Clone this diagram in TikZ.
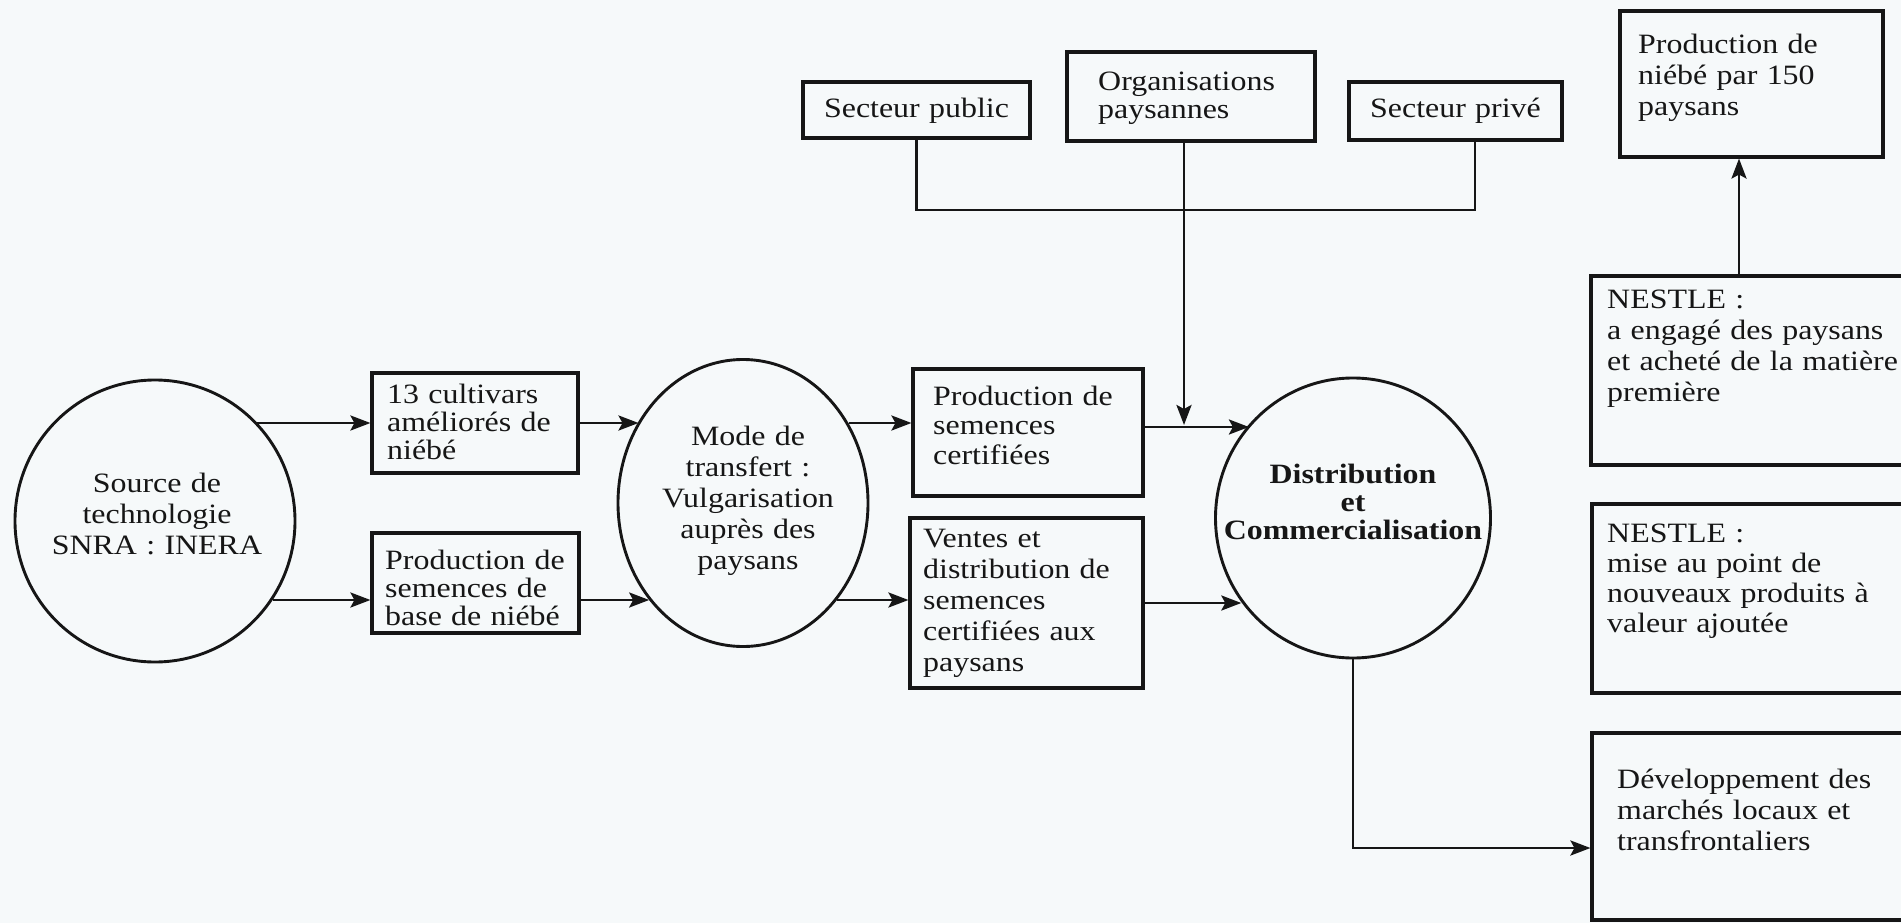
\documentclass[tikz,border=0pt]{standalone}
\usepackage{fontspec}
\setmainfont{Liberation Serif}[FakeStretch=1.14]
\usetikzlibrary{arrows.meta,shapes.geometric}
\definecolor{paper}{RGB}{246,249,250}
\definecolor{ink}{RGB}{22,22,22}

\begin{document}
\begin{tikzpicture}[x=1pt,y=-1pt,
  every node/.style={text=ink},
  txt/.style={font=\fontsize{28pt}{31pt}\selectfont},
  tight/.style={font=\fontsize{28pt}{28pt}\selectfont},
  frame/.style={draw=ink, line width=3.1pt, rectangle, inner sep=0pt},
  oval/.style={draw=ink, line width=2.9pt, ellipse, inner sep=0pt},
  lbl/.style={txt, inner sep=0pt, text width=420pt, align=left, anchor=base west},
  clbl/.style={txt, inner sep=0pt, text width=320pt, align=center, anchor=base},
  link/.style={draw=ink, line width=2.9pt},
  arr/.style={link, -{Stealth[length=20pt,width=15pt,inset=4pt]}},
]
\useasboundingbox (0,0) rectangle (1901,923);
\clip (0,0) rectangle (1901,923);
\fill[paper] (0,0) rectangle (1901,923);

% ---- ovals
\node[oval, minimum width=280pt, minimum height=282pt] (src) at (155,521) {};
\node[oval, minimum width=250pt, minimum height=287pt] (mode) at (743,503) {};
\node[oval, minimum width=275pt, minimum height=280pt] (dist) at (1353,518) {};

\node[clbl] (src-t) at (157,492) {Source de\\technologie\\SNRA : INERA};
\node[clbl] (mode-t) at (748,445) {Mode de\\transfert :\\Vulgarisation\\auprès des\\paysans};
\node[clbl, font=\fontsize{28pt}{28pt}\selectfont\bfseries] (dist-t) at (1353,483)
  {Distribution\\et\\Commercialisation};

% ---- boxes
\node[frame, minimum width=206pt, minimum height=100pt] (box13) at (475,423) {};
\node[frame, minimum width=207pt, minimum height=100pt] (base) at (475.5,583) {};
\node[frame, minimum width=230pt, minimum height=127pt] (cert) at (1028,432.5) {};
\node[frame, minimum width=233pt, minimum height=170pt] (ventes) at (1026.5,603) {};
\node[frame, minimum width=227pt, minimum height=56pt] (pub) at (916.5,110) {};
\node[frame, minimum width=248pt, minimum height=89pt] (org) at (1191,96.5) {};
\node[frame, minimum width=213pt, minimum height=58pt] (priv) at (1455.5,111) {};
\node[frame, minimum width=263pt, minimum height=146pt] (prodN) at (1751.5,84) {};
\node[frame, minimum width=324pt, minimum height=189pt] (nestleA) at (1753,370.5) {};
\node[frame, minimum width=323pt, minimum height=189pt] (nestleB) at (1753.5,598.5) {};
\node[frame, minimum width=323pt, minimum height=187pt] (dev) at (1753.5,826.5) {};

\node[lbl, tight] (box13-t) at (387,403) {13 cultivars\\améliorés de\\niébé};
\node[lbl, tight] (base-t) at (385,569) {Production de\\semences de\\base de niébé};
\node[lbl, font=\fontsize{28pt}{29.5pt}\selectfont] (cert-t) at (933,405) {Production de\\semences\\certifiées};
\node[lbl] (ventes-t) at (923,547) {Ventes et\\distribution de\\semences\\certifiées aux\\paysans};
\node[clbl] (pub-t) at (916.5,118) {Secteur public};
\node[lbl, tight] (org-t) at (1098,91) {Organisations\\paysannes};
\node[clbl] (priv-t) at (1455.5,118) {Secteur privé};
\node[lbl] (prodN-t) at (1638,54) {Production de\\niébé par 150\\paysans};
\node[lbl] (nestleA-t) at (1607,308) {NESTLE :\\a engagé des paysans\\et acheté de la matière\\première};
\node[lbl, font=\fontsize{28pt}{30pt}\selectfont] (nestleB-t) at (1607,542) {NESTLE :\\mise au point de\\nouveaux produits à\\valeur ajoutée};
\node[lbl] (dev-t) at (1617,788) {Développement des\\marchés locaux et\\transfrontaliers};

% ---- connector levels
\coordinate (yA) at (0,423);
\coordinate (yB) at (0,600);
\coordinate (yC) at (0,427);
\coordinate (yD) at (0,603);
\coordinate (join) at (1184,425);
\coordinate (privfoot) at (1475,210);
\coordinate (yF) at (0,848);
\coordinate (xN) at (1739,0);

% ---- connectors
\draw[arr] (src.44.2 |- yA) -- (box13.west |- yA);
\draw[arr] (src.-34.3 |- yB) -- (base.west |- yB);
\draw[arr] (box13.east |- yA) -- (mode.142.3 |- yA);
\draw[arr] (base.east |- yB) -- (mode.226.5 |- yB);
\draw[arr] (mode.37.7 |- yA) -- (cert.west |- yA);
\draw[arr] (mode.-46.5 |- yB) -- (ventes.west |- yB);
\draw[arr] (cert.east |- yC) -- (dist.138.95 |- yC);
\draw[arr] (ventes.east |- yD) -- (dist.217.9 |- yD);
\draw[link] (pub.south) |- (privfoot) -- (priv.south -| privfoot);
\draw[arr] (org.south -| join) -- (join);
\draw[arr] (dist.south) |- (dev.west |- yF);
\draw[arr] (nestleA.north -| xN) -- (prodN.south -| xN);
\end{tikzpicture}
\end{document}
